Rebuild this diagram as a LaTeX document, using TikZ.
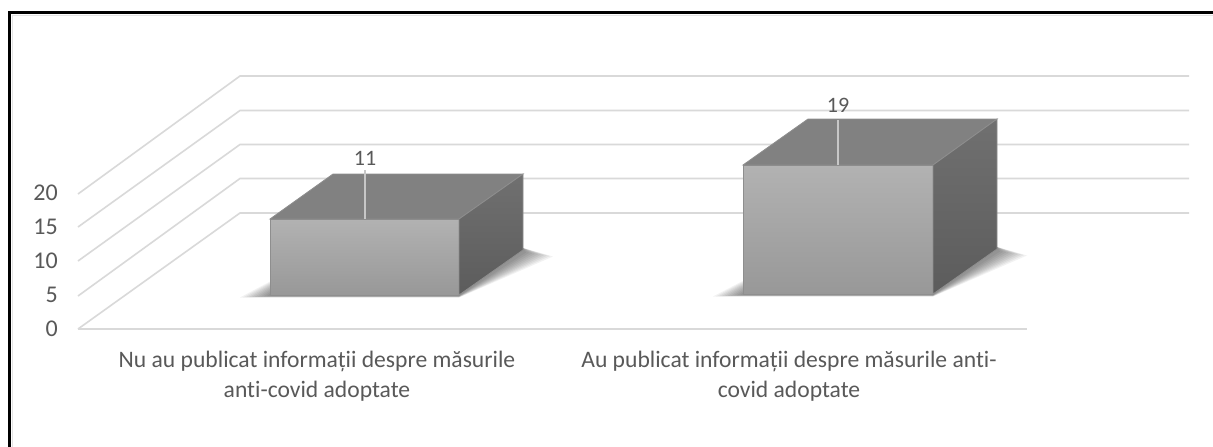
\documentclass[tikz,border=0pt]{standalone}
\usepackage{fontspec}
\setmainfont[RawFeature=-liga]{Carlito}
\definecolor{txt}{HTML}{595959}
\definecolor{grid}{HTML}{D9D9D9}
\definecolor{frontT}{HTML}{B2B2B2}
\definecolor{frontB}{HTML}{989898}
\definecolor{topc}{HTML}{818181}
\definecolor{sideT}{HTML}{707070}
\definecolor{sideB}{HTML}{5C5C5C}
\definecolor{edge}{HTML}{8E8E8E}
\tikzset{
  gridline/.style={draw=grid, line width=1.6pt},
  ticklbl/.style={text=txt, font=\fontsize{24}{28}\selectfont, anchor=east, inner sep=0pt},
  catlbl/.style={text=txt, font=\fontsize{23.6}{28}\selectfont, inner sep=0pt, anchor=base},
  vallbl/.style={text=txt, font=\fontsize{22}{26}\selectfont, inner sep=0pt},
  leader/.style={draw=grid!80!gray, line width=1.2pt},
  faceedge/.style={draw=edge, line width=0.8pt},
}
\begin{document}
\begin{tikzpicture}[x=1pt,y=-1pt]
\useasboundingbox (0,0) rectangle (1213,447);
\fill[white] (0,0) rectangle (1213,447);
% frame
\draw[black, line width=2.2pt] (9.5,447) -- (9.5,12.5) -- (1213,12.5);
\draw[grid!70!white, line width=1pt] (12,447) -- (12,15) -- (1213,15);
% grid
\foreach \i/\fy/\by in {0/329/213, 1/296/178.5, 2/261/144.5, 3/227/110.5, 4/194/76}{
  \coordinate (f\i) at (78,\fy);
  \coordinate (b\i) at (240,\by);
  \coordinate (e\i) at (1189,\by);
  \draw[gridline] (f\i) -- (b\i) -- (e\i);
}
\coordinate (fr) at (1027,329);
\draw[gridline] (f0) -- (fr);
% tick labels
\node[ticklbl] (t0) at (58,329) {0};
\node[ticklbl] (t1) at (58,295) {5};
\node[ticklbl] (t2) at (58,261) {10};
\node[ticklbl] (t3) at (58,227) {15};
\node[ticklbl] (t4) at (58,193) {20};
% shadows (soft)
\foreach \d in {30,27,24,21,18,15,12,9,6,3}{
  \fill[black, opacity=0.05] (270-\d,296+0.05*\d) -- (459,296+0.05*\d) -- (523+\d,252+0.15*\d) -- (523,248) -- (333,248) -- cycle;
  \fill[black, opacity=0.05] (743-\d,295+0.05*\d) -- (933,295+0.05*\d) -- (997+\d,251+0.15*\d) -- (997,247) -- (808,247) -- cycle;
}
% bar 1
\shade[top color=frontT, bottom color=frontB, faceedge] (270,219) rectangle (459,295);
\fill[topc, faceedge] (270,219) -- (333,174) -- (523,174) -- (459,219) -- cycle;
\shade[top color=sideT, bottom color=sideB, faceedge] (459,219) -- (523,174) -- (523,250) -- (459,295) -- cycle;
% bar 2
\shade[top color=frontT, bottom color=frontB, faceedge] (743,165) rectangle (933,294);
\fill[topc, faceedge] (743,165) -- (808,119) -- (997,119) -- (933,165) -- cycle;
\shade[top color=sideT, bottom color=sideB, faceedge] (933,165) -- (997,119) -- (997,249) -- (933,294) -- cycle;
% value labels
\node[vallbl] (v1) at (365,158) {11};
\node[vallbl] (v2) at (838,105) {19};
\coordinate (v1t) at (365,219);
\coordinate (v2t) at (838,165);
\draw[leader] ([yshift=-5pt]v1.south) -- (v1t);
\draw[leader] ([yshift=-8pt]v2.south) -- (v2t);
% category labels
\node[catlbl] (c1a) at (317,367) {Nu au publicat informații despre măsurile};
\node[catlbl] (c1b) at (317,397) {anti-covid adoptate};
\node[catlbl] (c2a) at (789,367) {Au publicat informații despre măsurile anti-};
\node[catlbl] (c2b) at (789,397) {covid adoptate};
\end{tikzpicture}
\end{document}
